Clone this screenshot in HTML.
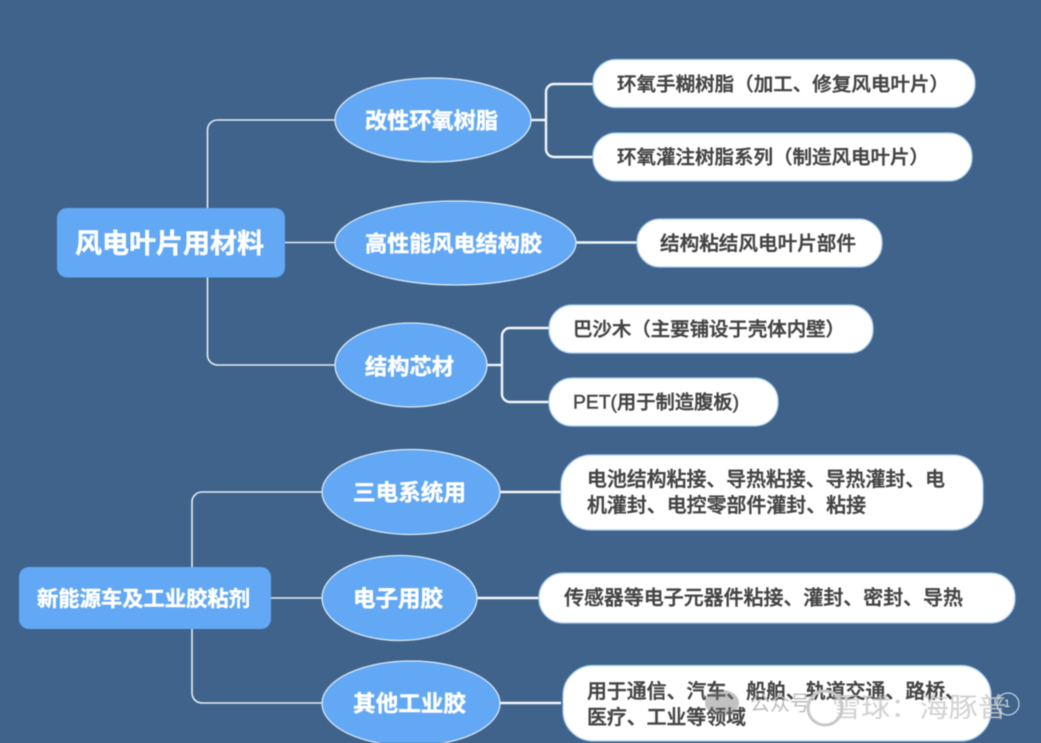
<!DOCTYPE html>
<html lang="zh">
<head>
<meta charset="utf-8">
<title>风电叶片用材料</title>
<style>
html,body{margin:0;padding:0;background:#3f638a;width:1041px;height:743px;overflow:hidden}
svg{display:block;filter:blur(.5px)}
text{font-family:"Liberation Sans","Noto Sans CJK SC",sans-serif}
.w{fill:#fff;font-weight:700;dominant-baseline:central;stroke:#fff;stroke-width:.45px;transform:translateY(1px)}
.d{fill:#444;font-weight:500;dominant-baseline:central;stroke:#444;stroke-width:.45px;transform:translateY(1px)}
.l{fill:none;stroke:#e4edf5;stroke-width:1.6}
.t{fill:none;stroke:#f2f6fa;stroke-width:2.4}
.e{fill:#62a8f5;stroke:#dbe8f4;stroke-width:1.3}
.r{fill:#62a8f5}
.p{fill:#fff;stroke:#a9cdee;stroke-width:1.2}
</style>
</head>
<body>
<svg width="1041" height="743" viewBox="0 0 1041 743" xmlns="http://www.w3.org/2000/svg">
<rect width="1041" height="743" fill="#3f638a"/>

<path class="l" d="M207.5 208V130a10 10 0 0 1 10-10H335"/>
<path class="l" d="M207.5 277V355a10 10 0 0 0 10 10H335"/>
<path class="l" d="M285 242.5H335" stroke-width="2"/>
<path class="t" d="M531 120H546"/>
<path class="t" d="M593 84H554a8 8 0 0 0-8 8V149a8 8 0 0 0 8 8H593"/>
<path class="t" d="M576 242.5H637"/>
<path class="t" d="M487 365H502"/>
<path class="t" d="M549 328H510a8 8 0 0 0-8 8V394a8 8 0 0 0 8 8H549"/>

<path class="l" d="M192 567V502a10 10 0 0 1 10-10H322"/>
<path class="l" d="M192 629V693a10 10 0 0 0 10 10H322"/>
<path class="l" d="M271 598H322" stroke-width="2"/>
<path class="t" d="M500 492H561"/>
<path class="t" d="M477 598H539"/>
<path class="t" d="M500 703H561"/>

<rect class="r" x="57" y="208" width="228" height="69.500" rx="10"/>
<text class="w" x="75" y="243" font-size="27" textLength="189" lengthAdjust="spacingAndGlyphs">风电叶片用材料</text>

<ellipse class="e" cx="433" cy="120" rx="98" ry="42"/>
<text class="w" x="365" y="120" font-size="22" textLength="133" lengthAdjust="spacingAndGlyphs">改性环氧树脂</text>
<ellipse class="e" cx="455.500" cy="243" rx="120.500" ry="42"/>
<text class="w" x="365" y="243" font-size="22" textLength="177" lengthAdjust="spacingAndGlyphs">高性能风电结构胶</text>
<ellipse class="e" cx="411" cy="365" rx="76" ry="42"/>
<text class="w" x="365" y="366" font-size="22" textLength="89" lengthAdjust="spacingAndGlyphs">结构芯材</text>

<rect class="p" x="593" y="59.500" width="382" height="48" rx="23"/>
<text class="d" x="617" y="84" font-size="19" textLength="332" lengthAdjust="spacingAndGlyphs">环氧手糊树脂（加工、修复风电叶片）</text>
<rect class="p" x="593" y="133" width="379" height="48" rx="23"/>
<text class="d" x="617" y="157" font-size="19" textLength="312" lengthAdjust="spacingAndGlyphs">环氧灌注树脂系列（制造风电叶片）</text>
<rect class="p" x="637" y="219" width="245" height="48" rx="23"/>
<text class="d" x="660" y="243" font-size="19.500" textLength="196" lengthAdjust="spacingAndGlyphs">结构粘结风电叶片部件</text>
<rect class="p" x="549" y="305" width="324" height="48" rx="23"/>
<text class="d" x="573" y="329" font-size="19" textLength="272" lengthAdjust="spacingAndGlyphs">巴沙木（主要铺设于壳体内壁）</text>
<rect class="p" x="549" y="378" width="229" height="48" rx="23"/>
<text class="d" x="573" y="402" font-size="19" textLength="166" lengthAdjust="spacingAndGlyphs">PET(用于制造腹板)</text>

<rect class="r" x="19" y="567" width="252" height="62" rx="10"/>
<text class="w" x="37" y="598.500" font-size="21" textLength="213" lengthAdjust="spacingAndGlyphs">新能源车及工业胶粘剂</text>

<ellipse class="e" cx="411" cy="492" rx="89" ry="42.500"/>
<text class="w" x="353" y="492" font-size="22.500" textLength="113" lengthAdjust="spacingAndGlyphs">三电系统用</text>
<ellipse class="e" cx="399.500" cy="598" rx="77.500" ry="42.500"/>
<text class="w" x="353" y="598" font-size="22.500" textLength="90" lengthAdjust="spacingAndGlyphs">电子用胶</text>
<ellipse class="e" cx="411" cy="703.500" rx="89" ry="42.500"/>
<text class="w" x="353" y="703" font-size="22.500" textLength="113" lengthAdjust="spacingAndGlyphs">其他工业胶</text>

<rect class="p" x="561" y="455" width="422" height="75" rx="30"/>
<text class="d" x="587" y="479" font-size="20" textLength="358" lengthAdjust="spacingAndGlyphs">电池结构粘接、导热粘接、导热灌封、电</text>
<text class="d" x="587" y="505" font-size="20" textLength="279" lengthAdjust="spacingAndGlyphs">机灌封、电控零部件灌封、粘接</text>
<rect class="p" x="539" y="573" width="476" height="50" rx="24"/>
<text class="d" x="564" y="597.500" font-size="20" textLength="399" lengthAdjust="spacingAndGlyphs">传感器等电子元器件粘接、灌封、密封、导热</text>
<rect class="p" x="563" y="665.500" width="428" height="75.500" rx="30"/>
<text class="d" x="587" y="691" font-size="20" textLength="378" lengthAdjust="spacingAndGlyphs">用于通信、汽车、船舶、轨道交通、路桥、</text>
<text class="d" x="587" y="717" font-size="20" textLength="159" lengthAdjust="spacingAndGlyphs">医疗、工业等领域</text>

<ellipse cx="722" cy="703" rx="17" ry="13" fill="#777" opacity=".45"/>
<text x="750" y="704" font-size="21" fill="#bbb" dominant-baseline="central" textLength="60" lengthAdjust="spacingAndGlyphs">公众号</text>
<circle cx="825" cy="708" r="17" fill="none" stroke="#c8c8c8" stroke-width="3"/>
<text x="832" y="708" font-size="27" fill="#c9c9c9" opacity=".85" dominant-baseline="central" textLength="175" lengthAdjust="spacingAndGlyphs">雪球：海豚普</text>
<circle cx="1008" cy="704" r="11" fill="none" stroke="#dfe6ee" stroke-width="1"/>
<text x="1004" y="704" font-size="11" fill="#eee" dominant-baseline="central">1</text>
</svg>
</body>
</html>
